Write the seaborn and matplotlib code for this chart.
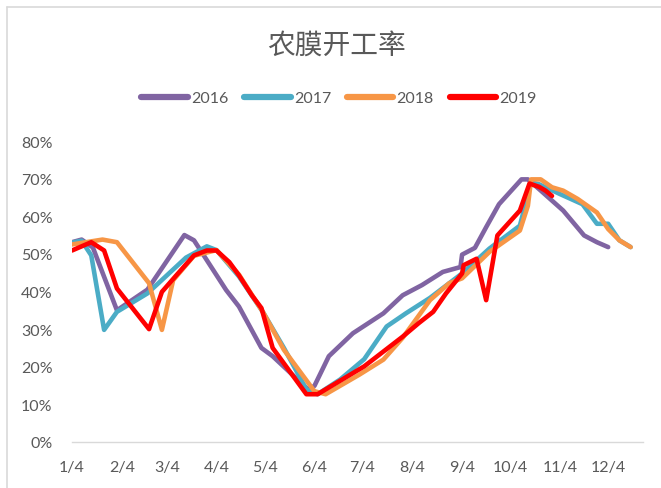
import matplotlib
matplotlib.use("Agg")
import matplotlib.pyplot as plt
import matplotlib.dates as mdates
import seaborn as sns
import pandas as pd
from matplotlib.lines import Line2D

# ---- data (dates mapped onto a common calendar year, values in %) ----
dates_2016 = ["01-04", "01-10", "01-17", "02-01", "02-20", "03-15", "03-21", "04-10", "04-18",
              "05-02", "05-09", "05-31", "06-04", "06-13", "06-28", "07-17", "07-29", "08-10",
              "08-23", "09-03", "09-04", "09-12", "09-19", "09-27", "10-11", "10-15", "10-22",
              "11-06", "11-19", "11-27", "12-04"]
vals_2016 = [53.1, 53.8, 51.7, 35.0, 40.5, 55.0, 53.6, 40.4, 36.0,
             25.0, 22.8, 14.0, 14.9, 22.8, 28.9, 34.2, 39.0, 41.7,
             45.2, 46.5, 49.8, 51.6, 57.1, 63.2, 69.8, 69.8, 67.2,
             61.5, 54.9, 53.1, 51.8]

dates_2017 = ["01-04", "01-10", "01-16", "01-24", "02-01", "02-20", "03-16", "03-29", "04-04",
              "04-18", "05-03", "05-16", "05-30", "06-06", "06-20", "07-05", "07-19", "07-31",
              "08-15", "08-27", "09-04", "09-21", "10-10", "10-17", "10-22", "11-04", "11-18",
              "11-27", "12-04", "12-11", "12-18"]
vals_2017 = [53.0, 53.5, 49.6, 29.8, 34.6, 39.5, 49.0, 52.0, 51.0,
             44.0, 34.5, 25.0, 14.0, 12.7, 16.6, 22.0, 30.7, 34.2,
             38.3, 42.2, 44.8, 51.4, 57.5, 69.0, 68.5, 65.9, 63.2,
             58.0, 58.0, 53.6, 51.8]

dates_2018 = ["01-04", "01-23", "02-01", "02-21", "03-01", "03-08", "03-21", "04-04", "04-18",
              "05-03", "05-16", "06-04", "06-11", "07-02", "07-17", "07-29", "08-15", "08-27",
              "09-04", "09-21", "10-10", "10-15", "10-17", "10-23", "10-30", "11-06", "11-15",
              "11-27", "12-04", "12-11", "12-18"]
vals_2018 = [52.5, 53.8, 53.1, 42.2, 29.8, 43.0, 49.5, 51.0, 44.5,
             34.5, 24.5, 13.5, 12.7, 17.9, 21.9, 27.7, 37.7, 42.2,
             43.5, 50.5, 56.2, 62.8, 69.8, 69.8, 67.7, 66.8, 64.6,
             61.0, 56.6, 53.6, 51.8]

dates_2019 = ["01-04", "01-16", "01-24", "02-01", "02-21", "03-01", "03-10", "03-21", "03-29",
              "04-04", "04-12", "04-18", "04-26", "05-02", "05-09", "05-30", "06-06", "07-05",
              "07-29", "08-08", "08-17", "08-25", "09-04", "09-05", "09-13", "09-19", "09-26",
              "10-10", "10-16", "10-22", "10-26", "10-30"]
vals_2019 = [50.9, 53.1, 50.9, 40.8, 30.0, 39.9, 44.3, 49.6, 50.9,
             50.9, 47.8, 44.3, 39.0, 35.6, 25.0, 12.7, 12.7, 20.1,
             28.0, 31.6, 34.6, 39.5, 44.8, 47.0, 48.7, 37.7, 54.9,
             61.5, 68.7, 67.8, 66.8, 65.4]

series_names = ["2016", "2017", "2018", "2019"]
series_dates = [dates_2016, dates_2017, dates_2018, dates_2019]
series_vals = [vals_2016, vals_2017, vals_2018, vals_2019]
colors = ["#8064A2", "#4BACC6", "#F79646", "#FF0000"]

tick_months = list(range(1, 13))
tick_labels = [f"{m}/4" for m in tick_months]
y_ticks = [0, 10, 20, 30, 40, 50, 60, 70, 80]

# ---- build long table ----
frames = []
for name, d, v in zip(series_names, series_dates, series_vals):
    frames.append(pd.DataFrame({
        "date": pd.to_datetime(["2019-" + s for s in d]),
        "value": [x / 100 for x in v],
        "year": name,
    }))
df = pd.concat(frames, ignore_index=True)

sns.set_theme(style="white")
plt.rcParams["font.family"] = ["Lato", "DejaVu Sans"]

W, H = 661, 489
fig = plt.figure(figsize=(W / 100, H / 100), dpi=100)
ax = fig.add_axes([72 / W, 1 - 443 / H, (643 - 72) / W, (443 - 142) / H])

sns.lineplot(data=df, x="date", y="value", hue="year", palette=dict(zip(series_names, colors)),
             estimator=None, sort=False, linewidth=3.3, ax=ax, legend=False)
for ln in ax.lines:
    ln.set_solid_joinstyle("round")
    ln.set_solid_capstyle("round")

x0 = pd.Timestamp("2019-01-04")
ax.set_xlim(x0, x0 + pd.Timedelta(days=355.7))
ax.set_ylim(0, 0.8)

ax.set_xticks([pd.Timestamp(f"2019-{m:02d}-04") for m in tick_months])
ax.set_xticklabels(tick_labels)
ax.set_yticks([t / 100 for t in y_ticks])
ax.set_yticklabels([f"{t}%" for t in y_ticks])
ax.set_xlabel("")
ax.set_ylabel("")

grey = "#595959"
ax.tick_params(axis="both", length=0, labelsize=11.5, colors=grey)
ax.tick_params(axis="y", pad=14)
ax.tick_params(axis="x", pad=13)

for side in ["top", "right", "left"]:
    ax.spines[side].set_visible(False)
ax.spines["bottom"].set_color("#D9D9D9")
ax.spines["bottom"].set_linewidth(1.0)
ax.grid(False)

# title
fig.text(337 / W, 1 - 46 / H, "农膜开工率", ha="center", va="center", fontsize=20,
         color=grey, family=["Noto Sans CJK SC", "DejaVu Sans"])

# legend
handles = [Line2D([0], [0], color=c, lw=4.5, solid_capstyle="round") for c in colors]
fig.legend(handles, series_names, loc="center", bbox_to_anchor=(339 / W, 1 - 99 / H),
           ncol=4, frameon=False, fontsize=11.5, handlelength=2.9, handletextpad=0.2,
           columnspacing=1.0, labelcolor=grey)

# chart border (left/top)
fig.add_artist(Line2D([7 / W, 7 / W], [0, 1 - 8 / H], color="#D9D9D9", lw=1.2,
                      transform=fig.transFigure))
fig.add_artist(Line2D([7 / W, 1], [1 - 8 / H, 1 - 8 / H], color="#D9D9D9", lw=1.2,
                      transform=fig.transFigure))

fig.savefig("out.png", dpi=100, facecolor="white")
